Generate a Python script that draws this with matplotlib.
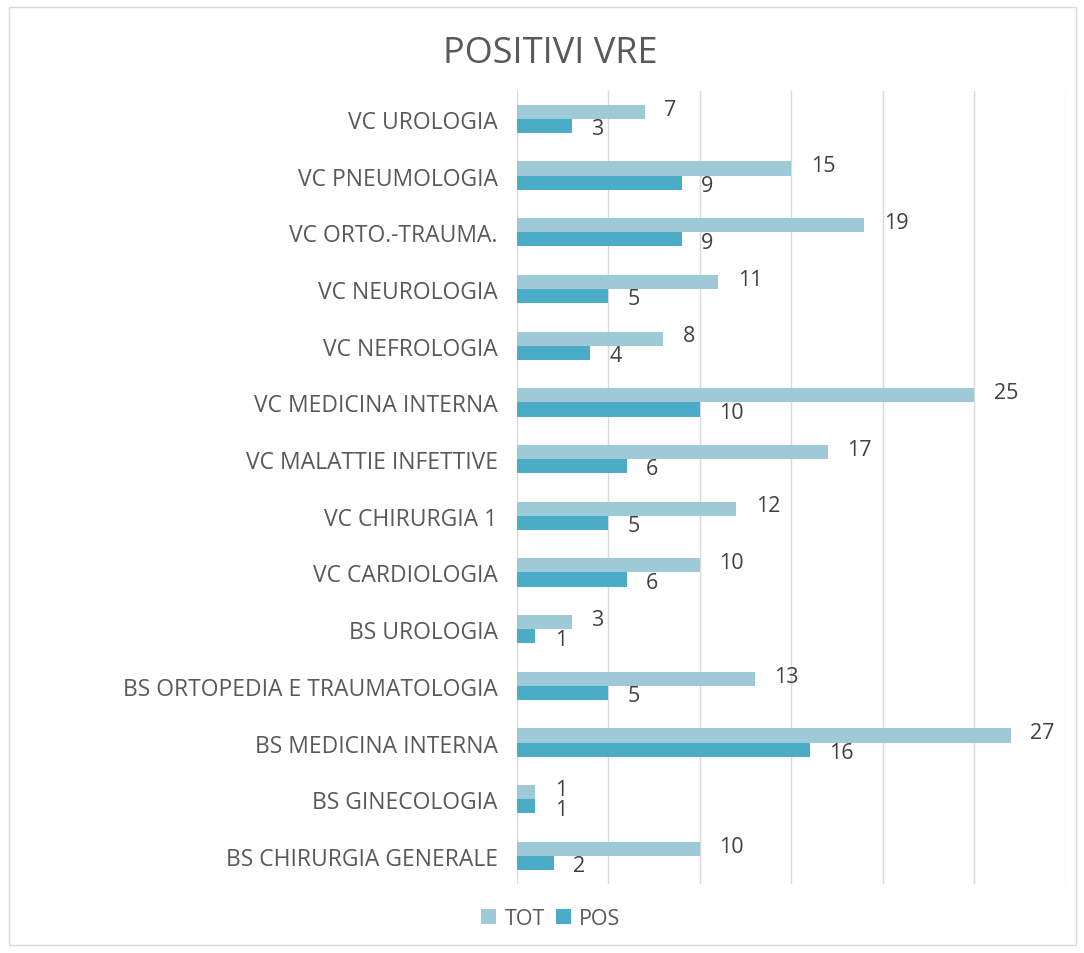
import numpy as np
import matplotlib.pyplot as plt
from matplotlib.patches import Rectangle

# reparti, dal basso verso l'alto
categories = ['BS CHIRURGIA GENERALE', 'BS GINECOLOGIA', 'BS MEDICINA INTERNA',
              'BS ORTOPEDIA E TRAUMATOLOGIA', 'BS UROLOGIA', 'VC CARDIOLOGIA',
              'VC CHIRURGIA 1', 'VC MALATTIE INFETTIVE', 'VC MEDICINA INTERNA',
              'VC NEFROLOGIA', 'VC NEUROLOGIA', 'VC ORTO.-TRAUMA.',
              'VC PNEUMOLOGIA', 'VC UROLOGIA']
tot = [10, 1, 27, 13, 3, 10, 12, 17, 25, 8, 11, 19, 15, 7]
pos = [2, 1, 16, 5, 1, 6, 5, 6, 10, 4, 5, 9, 9, 3]
xticks = [0, 5, 10, 15, 20, 25, 30]

plt.rcParams['font.family'] = ['Open Sans', 'DejaVu Sans']

fig = plt.figure(figsize=(10.84, 9.54), dpi=100)
ax = fig.add_axes([0.477, 0.072, 0.506, 0.832])

y = np.arange(len(categories))
h = 0.25
b1 = ax.barh(y + h / 2, tot, height=h, color='#9ecad8', label='TOT')
b2 = ax.barh(y - h / 2, pos, height=h, color='#4aacc6', label='POS')

for r, v in zip(b1, tot):
    ax.annotate(str(v), (r.get_width(), r.get_y() + r.get_height() / 2),
                xytext=(14, 2), textcoords='offset points', ha='left', va='center',
                fontsize=15.5, color='#404040')
for r, v in zip(b2, pos):
    ax.annotate(str(v), (r.get_width(), r.get_y() + r.get_height() / 2),
                xytext=(14, -2), textcoords='offset points', ha='left', va='center',
                fontsize=15.5, color='#404040')

ax.set_xlim(0, 30)
ax.set_ylim(-0.5, len(categories) - 0.5)
ax.set_xticks(xticks)
ax.set_xticklabels([])
ax.set_yticks(y)
ax.set_yticklabels(categories, fontsize=16.5, color='#595959')
ax.tick_params(axis='both', length=0)
ax.tick_params(axis='y', pad=14)
ax.grid(axis='x', color='#d9d9d9', linewidth=1)
ax.set_axisbelow(True)
for s in ax.spines.values():
    s.set_visible(False)

fig.suptitle('POSITIVI VRE', x=0.508, y=0.962, fontsize=26, color='#595959')
fig.legend(handles=[b1, b2], loc='center', bbox_to_anchor=(0.508, 0.036), ncol=2,
           frameon=False, fontsize=15.5, handlelength=0.7, handleheight=0.7,
           handletextpad=0.4, columnspacing=0.5, labelcolor='#595959')

fig.patches.append(Rectangle((0.008, 0.008), 0.985, 0.984, transform=fig.transFigure,
                             fill=False, edgecolor='#d9d9d9', linewidth=1))

fig.savefig('out.png', dpi=100)
